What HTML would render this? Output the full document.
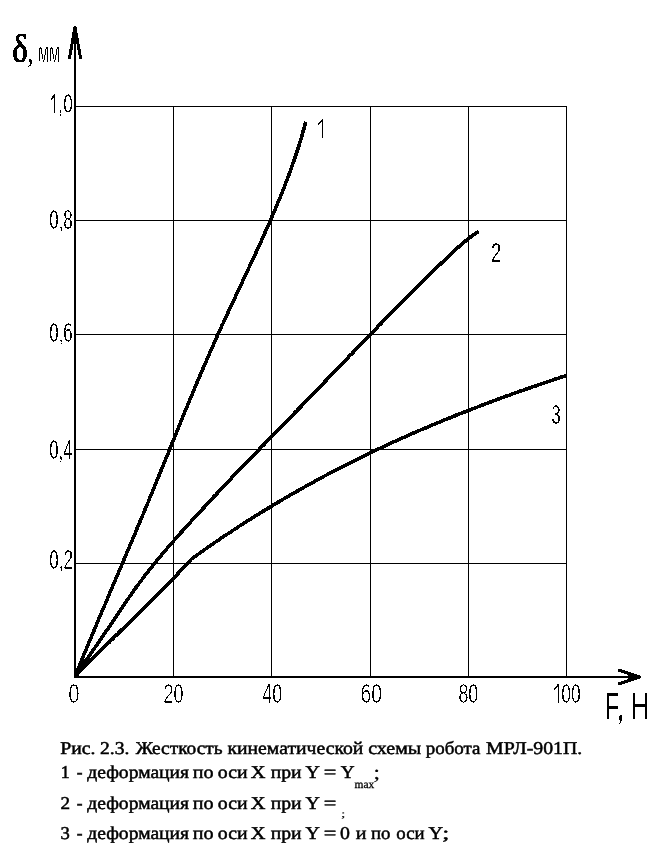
<!DOCTYPE html>
<html><head><meta charset="utf-8"><style>
html,body{margin:0;padding:0;background:#fff;width:669px;height:844px;overflow:hidden}
svg{display:block}
</style></head><body>
<svg width="669" height="844" viewBox="0 0 669 844"><defs><filter id="bin" filterUnits="userSpaceOnUse" x="0" y="0" width="669" height="844" color-interpolation-filters="sRGB"><feComponentTransfer><feFuncR type="discrete" tableValues="0 1"/><feFuncG type="discrete" tableValues="0 1"/><feFuncB type="discrete" tableValues="0 1"/><feFuncA type="discrete" tableValues="0 1"/></feComponentTransfer></filter><filter id="gray" filterUnits="userSpaceOnUse" x="0" y="700" width="669" height="144" color-interpolation-filters="sRGB"><feOffset dx="0" dy="0"/></filter></defs><g filter="url(#bin)"><g stroke="#000" stroke-width="1" shape-rendering="crispEdges"><line x1="74" y1="106.5" x2="567" y2="106.5"/><line x1="74" y1="220.5" x2="567" y2="220.5"/><line x1="74" y1="334.5" x2="567" y2="334.5"/><line x1="74" y1="449.5" x2="567" y2="449.5"/><line x1="74" y1="563.5" x2="567" y2="563.5"/><line x1="173.5" y1="106" x2="173.5" y2="677"/><line x1="271.5" y1="106" x2="271.5" y2="677"/><line x1="370.5" y1="106" x2="370.5" y2="677"/><line x1="468.5" y1="106" x2="468.5" y2="677"/><line x1="566.5" y1="106" x2="566.5" y2="677"/></g><g stroke="#000" stroke-width="2" shape-rendering="crispEdges"><line x1="75" y1="30" x2="75" y2="678"/><line x1="74" y1="677" x2="638" y2="677"/></g><g stroke="#000" stroke-width="3" fill="none" stroke-linecap="round" stroke-linejoin="round"><polyline points="69.5,58 75,27 80.5,58"/><polyline points="619.5,670.5 640,677 619.5,683.5"/></g><path d="M75,27 L72,43 L78,43 Z M640,677 L628,674 L628,680 Z" fill="#000"/><clipPath id="cc"><rect x="74" y="0" width="600" height="678"/></clipPath><g stroke="#000" stroke-width="3.6" fill="none" stroke-linecap="butt" stroke-linejoin="round" clip-path="url(#cc)"><polyline points="75.0,676.5 75.8,674.5 76.6,672.5 77.5,670.5 78.3,668.5 79.1,666.5 79.9,664.4 80.7,662.4 81.6,660.4 82.4,658.4 83.2,656.4 84.0,654.4 84.9,652.4 85.7,650.4 86.5,648.4 87.4,646.4 88.2,644.3 89.0,642.3 89.9,640.3 90.7,638.3 91.6,636.3 92.4,634.3 93.2,632.3 94.1,630.3 94.9,628.3 95.8,626.3 96.6,624.2 97.4,622.2 98.3,620.2 99.1,618.2 100.0,616.2 100.8,614.2 101.7,612.2 102.5,610.2 103.4,608.2 104.2,606.2 105.1,604.1 105.9,602.1 106.8,600.1 107.6,598.1 108.5,596.1 109.3,594.1 110.2,592.1 111.0,590.1 111.9,588.1 112.7,586.1 113.6,584.1 114.4,582.0 115.3,580.0 116.1,578.0 117.0,576.0 117.9,574.0 118.7,572.0 119.6,570.0 120.4,568.0 121.3,566.0 122.1,564.0 123.0,561.9 123.8,559.9 124.7,557.9 125.5,555.9 126.4,553.9 127.2,551.9 128.1,549.9 128.9,547.9 129.8,545.9 130.6,543.9 131.5,541.8 132.3,539.8 133.2,537.8 134.0,535.8 134.9,533.8 135.7,531.8 136.5,529.8 137.4,527.8 138.2,525.8 139.1,523.8 139.9,521.7 140.8,519.7 141.6,517.7 142.4,515.7 143.3,513.7 144.1,511.7 144.9,509.7 145.8,507.7 146.6,505.7 147.4,503.7 148.3,501.6 149.1,499.6 149.9,497.6 150.8,495.6 151.6,493.6 152.4,491.6 153.2,489.6 154.1,487.6 154.9,485.6 155.7,483.6 156.5,481.6 157.3,479.5 158.2,477.5 159.0,475.5 159.8,473.5 160.6,471.5 161.4,469.5 162.2,467.5 163.1,465.5 163.9,463.5 164.7,461.5 165.5,459.4 166.3,457.4 167.1,455.4 168.0,453.4 168.8,451.4 169.6,449.4 170.4,447.4 171.2,445.4 172.0,443.4 172.8,441.4 173.7,439.3 174.5,437.3 175.3,435.3 176.1,433.3 176.9,431.3 177.7,429.3 178.6,427.3 179.4,425.3 180.2,423.3 181.0,421.3 181.8,419.2 182.7,417.2 183.5,415.2 184.3,413.2 185.1,411.2 186.0,409.2 186.8,407.2 187.6,405.2 188.5,403.2 189.3,401.2 190.1,399.2 191.0,397.1 191.8,395.1 192.6,393.1 193.5,391.1 194.3,389.1 195.1,387.1 196.0,385.1 196.8,383.1 197.7,381.1 198.5,379.1 199.4,377.0 200.2,375.0 201.1,373.0 201.9,371.0 202.8,369.0 203.7,367.0 204.5,365.0 205.4,363.0 206.3,361.0 207.1,359.0 208.0,356.9 208.9,354.9 209.8,352.9 210.6,350.9 211.5,348.9 212.4,346.9 213.3,344.9 214.2,342.9 215.1,340.9 216.0,338.9 216.9,336.8 217.8,334.8 218.7,332.8 219.6,330.8 220.5,328.8 221.4,326.8 222.3,324.8 223.3,322.8 224.2,320.8 225.1,318.8 226.0,316.7 227.0,314.7 227.9,312.7 228.8,310.7 229.7,308.7 230.7,306.7 231.6,304.7 232.6,302.7 233.5,300.7 234.4,298.7 235.4,296.7 236.3,294.6 237.2,292.6 238.2,290.6 239.1,288.6 240.1,286.6 241.0,284.6 242.0,282.6 242.9,280.6 243.8,278.6 244.8,276.6 245.7,274.5 246.7,272.5 247.6,270.5 248.5,268.5 249.5,266.5 250.4,264.5 251.3,262.5 252.3,260.5 253.2,258.5 254.1,256.5 255.1,254.4 256.0,252.4 256.9,250.4 257.8,248.4 258.7,246.4 259.7,244.4 260.6,242.4 261.5,240.4 262.4,238.4 263.3,236.4 264.2,234.3 265.1,232.3 266.0,230.3 266.9,228.3 267.8,226.3 268.7,224.3 269.5,222.3 270.4,220.3 271.3,218.3 272.1,216.3 273.0,214.2 273.9,212.2 274.7,210.2 275.6,208.2 276.4,206.2 277.3,204.2 278.1,202.2 278.9,200.2 279.7,198.2 280.6,196.2 281.4,194.2 282.2,192.1 283.0,190.1 283.8,188.1 284.6,186.1 285.3,184.1 286.1,182.1 286.9,180.1 287.6,178.1 288.4,176.1 289.1,174.1 289.9,172.0 290.6,170.0 291.3,168.0 292.1,166.0 292.8,164.0 293.5,162.0 294.2,160.0 294.9,158.0 295.5,156.0 296.2,154.0 296.9,151.9 297.5,149.9 298.2,147.9 298.8,145.9 299.4,143.9 300.1,141.9 300.7,139.9 301.3,137.9 301.9,135.9 302.4,133.9 303.0,131.8 303.6,129.8 304.1,127.8 304.7,125.8 305.2,123.8 305.7,121.8"/><polyline points="75.0,676.5 77.0,673.5 79.0,670.5 81.1,667.6 83.1,664.7 85.1,661.7 87.1,658.8 89.1,655.9 91.1,653.0 93.2,650.1 95.2,647.2 97.2,644.3 99.2,641.3 101.2,638.4 103.3,635.5 105.3,632.6 107.3,629.6 109.3,626.7 111.3,623.7 113.3,620.7 115.4,617.7 117.4,614.7 119.4,611.7 121.4,608.7 123.4,605.7 125.5,602.7 127.5,599.7 129.5,596.8 131.5,593.9 133.5,591.0 135.5,588.2 137.6,585.4 139.6,582.7 141.6,580.0 143.6,577.3 145.6,574.7 147.6,572.1 149.7,569.5 151.7,567.0 153.7,564.4 155.7,562.0 157.7,559.5 159.8,557.1 161.8,554.7 163.8,552.3 165.8,549.9 167.8,547.6 169.8,545.2 171.9,542.9 173.9,540.6 175.9,538.3 177.9,536.1 179.9,533.8 182.0,531.5 184.0,529.3 186.0,527.1 188.0,524.8 190.0,522.6 192.0,520.4 194.1,518.2 196.1,516.0 198.1,513.8 200.1,511.6 202.1,509.4 204.2,507.2 206.2,505.0 208.2,502.8 210.2,500.7 212.2,498.5 214.2,496.3 216.3,494.2 218.3,492.0 220.3,489.9 222.3,487.7 224.3,485.6 226.4,483.5 228.4,481.3 230.4,479.2 232.4,477.1 234.4,475.0 236.4,472.9 238.5,470.8 240.5,468.7 242.5,466.6 244.5,464.5 246.5,462.4 248.5,460.3 250.6,458.2 252.6,456.1 254.6,454.1 256.6,452.0 258.6,449.9 260.7,447.8 262.7,445.8 264.7,443.7 266.7,441.6 268.7,439.6 270.7,437.5 272.8,435.4 274.8,433.4 276.8,431.3 278.8,429.2 280.8,427.2 282.9,425.1 284.9,423.0 286.9,420.9 288.9,418.9 290.9,416.8 292.9,414.7 295.0,412.6 297.0,410.6 299.0,408.5 301.0,406.4 303.0,404.3 305.1,402.2 307.1,400.1 309.1,398.0 311.1,395.9 313.1,393.8 315.1,391.7 317.2,389.7 319.2,387.6 321.2,385.5 323.2,383.4 325.2,381.3 327.2,379.2 329.3,377.1 331.3,375.0 333.3,372.9 335.3,370.8 337.3,368.7 339.4,366.6 341.4,364.5 343.4,362.4 345.4,360.3 347.4,358.2 349.4,356.1 351.5,354.0 353.5,351.9 355.5,349.8 357.5,347.7 359.5,345.6 361.6,343.5 363.6,341.4 365.6,339.3 367.6,337.2 369.6,335.2 371.6,333.1 373.7,331.0 375.7,328.9 377.7,326.8 379.7,324.8 381.7,322.7 383.8,320.6 385.8,318.6 387.8,316.5 389.8,314.4 391.8,312.4 393.8,310.3 395.9,308.3 397.9,306.2 399.9,304.2 401.9,302.1 403.9,300.1 406.0,298.0 408.0,296.0 410.0,294.0 412.0,292.0 414.0,289.9 416.0,287.9 418.1,285.9 420.1,283.9 422.1,281.9 424.1,279.9 426.1,277.9 428.2,275.9 430.2,273.9 432.2,272.0 434.2,270.0 436.2,268.0 438.2,266.1 440.3,264.1 442.3,262.2 444.3,260.3 446.3,258.4 448.3,256.5 450.3,254.6 452.4,252.7 454.4,250.9 456.4,249.0 458.4,247.2 460.4,245.4 462.5,243.6 464.5,241.9 466.5,240.2 468.5,238.6 470.5,237.0 472.5,235.5 474.6,234.1 476.6,232.7 478.6,231.5"/><polyline points="75.0,676.5 77.0,674.4 79.1,672.3 81.1,670.2 83.2,668.1 85.2,666.0 87.3,663.9 89.3,661.9 91.4,659.8 93.4,657.8 95.5,655.7 97.5,653.7 99.5,651.7 101.6,649.6 103.6,647.6 105.7,645.6 107.7,643.6 109.8,641.6 111.8,639.6 113.9,637.6 115.9,635.6 118.0,633.6 120.0,631.6 122.0,629.6 124.1,627.6 126.1,625.6 128.2,623.6 130.2,621.6 132.3,619.6 134.3,617.6 136.4,615.6 138.4,613.6 140.5,611.6 142.5,609.6 144.6,607.6 146.6,605.5 148.6,603.5 150.7,601.5 152.7,599.4 154.8,597.4 156.8,595.3 158.9,593.3 160.9,591.2 163.0,589.1 165.0,587.0 167.1,585.0 169.1,582.8 171.1,580.7 173.2,578.6 175.2,576.5 177.3,574.3 179.3,572.1 181.4,570.0 183.4,567.8 185.5,565.6 187.5,563.4 189.6,561.1 191.6,558.9 193.6,557.5 195.6,556.0 197.6,554.6 199.7,553.1 201.7,551.7 203.7,550.3 205.7,548.9 207.7,547.5 209.7,546.1 211.7,544.7 213.8,543.3 215.8,541.9 217.8,540.5 219.8,539.2 221.8,537.8 223.8,536.4 225.8,535.1 227.9,533.8 229.9,532.4 231.9,531.1 233.9,529.8 235.9,528.4 237.9,527.1 239.9,525.8 242.0,524.5 244.0,523.2 246.0,521.9 248.0,520.6 250.0,519.4 252.0,518.1 254.0,516.8 256.1,515.6 258.1,514.3 260.1,513.1 262.1,511.8 264.1,510.6 266.1,509.4 268.2,508.1 270.2,506.9 272.2,505.7 274.2,504.5 276.2,503.3 278.2,502.1 280.2,500.9 282.3,499.7 284.3,498.5 286.3,497.4 288.3,496.2 290.3,495.0 292.3,493.9 294.3,492.7 296.4,491.6 298.4,490.4 300.4,489.3 302.4,488.1 304.4,487.0 306.4,485.9 308.4,484.8 310.5,483.7 312.5,482.6 314.5,481.5 316.5,480.4 318.5,479.3 320.5,478.2 322.5,477.1 324.6,476.0 326.6,475.0 328.6,473.9 330.6,472.8 332.6,471.8 334.6,470.7 336.6,469.7 338.7,468.6 340.7,467.6 342.7,466.6 344.7,465.5 346.7,464.5 348.7,463.5 350.7,462.5 352.8,461.5 354.8,460.5 356.8,459.5 358.8,458.5 360.8,457.5 362.8,456.5 364.8,455.5 366.9,454.5 368.9,453.6 370.9,452.6 372.9,451.6 374.9,450.7 376.9,449.7 378.9,448.7 381.0,447.8 383.0,446.9 385.0,445.9 387.0,445.0 389.0,444.1 391.0,443.1 393.1,442.2 395.1,441.3 397.1,440.4 399.1,439.5 401.1,438.6 403.1,437.7 405.1,436.8 407.2,435.9 409.2,435.0 411.2,434.1 413.2,433.2 415.2,432.3 417.2,431.5 419.2,430.6 421.3,429.7 423.3,428.8 425.3,428.0 427.3,427.1 429.3,426.3 431.3,425.4 433.3,424.6 435.4,423.7 437.4,422.9 439.4,422.1 441.4,421.2 443.4,420.4 445.4,419.6 447.4,418.8 449.5,418.0 451.5,417.1 453.5,416.3 455.5,415.5 457.5,414.7 459.5,413.9 461.5,413.1 463.6,412.3 465.6,411.5 467.6,410.7 469.6,410.0 471.6,409.2 473.6,408.4 475.6,407.6 477.7,406.9 479.7,406.1 481.7,405.3 483.7,404.6 485.7,403.8 487.7,403.0 489.7,402.3 491.8,401.5 493.8,400.8 495.8,400.0 497.8,399.3 499.8,398.6 501.8,397.8 503.8,397.1 505.9,396.3 507.9,395.6 509.9,394.9 511.9,394.2 513.9,393.4 515.9,392.7 518.0,392.0 520.0,391.3 522.0,390.6 524.0,389.9 526.0,389.2 528.0,388.5 530.0,387.8 532.1,387.1 534.1,386.4 536.1,385.7 538.1,385.0 540.1,384.3 542.1,383.6 544.1,382.9 546.2,382.2 548.2,381.6 550.2,380.9 552.2,380.2 554.2,379.5 556.2,378.8 558.2,378.2 560.3,377.5 562.3,376.8 564.3,376.2 566.3,375.5"/></g><rect x="53.9" y="94" width="1.1" height="18.799999999999997" fill="#000"/><line x1="54.449999999999996" y1="94.6" x2="51.6" y2="98.9" stroke="#000" stroke-width="1.7" stroke-linecap="round"/><rect x="557.9" y="684" width="1.1" height="18.899999999999977" fill="#000"/><line x1="558.4499999999999" y1="684.6" x2="554.9" y2="689" stroke="#000" stroke-width="1.7" stroke-linecap="round"/><rect x="322" y="119.2" width="1.1" height="18.799999999999997" fill="#000"/><line x1="322.55" y1="119.8" x2="318.7" y2="124" stroke="#000" stroke-width="1.7" stroke-linecap="round"/><g font-family="Liberation Sans, sans-serif" fill="#000" stroke="#fff" stroke-width="0.45"><text x="58.35" y="112.54" font-size="26.8" textLength="14.43" lengthAdjust="spacingAndGlyphs">,0</text><text x="49.24" y="228.64" font-size="26.8" textLength="23.49" lengthAdjust="spacingAndGlyphs">0,8</text><text x="49.24" y="342.34" font-size="26.8" textLength="23.50" lengthAdjust="spacingAndGlyphs">0,6</text><text x="49.25" y="458.64" font-size="26.8" textLength="23.24" lengthAdjust="spacingAndGlyphs">0,4</text><text x="49.24" y="568.74" font-size="26.8" textLength="23.62" lengthAdjust="spacingAndGlyphs">0,2</text><text x="68.21" y="702.54" font-size="26.8" textLength="11.29" lengthAdjust="spacingAndGlyphs">0</text><text x="163.40" y="702.54" font-size="26.8" textLength="20.01" lengthAdjust="spacingAndGlyphs">20</text><text x="262.19" y="702.54" font-size="26.8" textLength="19.91" lengthAdjust="spacingAndGlyphs">40</text><text x="360.51" y="702.54" font-size="26.8" textLength="21.65" lengthAdjust="spacingAndGlyphs">60</text><text x="458.42" y="702.54" font-size="26.8" textLength="19.87" lengthAdjust="spacingAndGlyphs">80</text><text x="561.22" y="702.54" font-size="26.8" textLength="19.47" lengthAdjust="spacingAndGlyphs">00</text><text x="490.88" y="261.64" font-size="26.8" textLength="10.13" lengthAdjust="spacingAndGlyphs">2</text><text x="551.57" y="423.54" font-size="26.8" textLength="9.15" lengthAdjust="spacingAndGlyphs">3</text></g><g font-family="Liberation Sans, sans-serif" fill="#000"><text x="605.02" y="718.9" font-size="37.8" textLength="14.00" lengthAdjust="spacingAndGlyphs">F</text><text x="630.60" y="718.9" font-size="37.8" textLength="18.49" lengthAdjust="spacingAndGlyphs">H</text><text x="37.88" y="61.8" font-size="28" textLength="22.12" lengthAdjust="spacingAndGlyphs" stroke="#fff" stroke-width="0.5">мм</text></g><path d="M619.2,715.6 h2.8 v4.6 l-1.2,2.6 l-1.2,1.8 h-0.6 l0.9,-2.2 l0.2,-2.2 h-0.9 z" fill="#000"/><g font-family="Liberation Serif, serif" fill="#000"><text x="12.36" y="61.6" font-size="39.5" textLength="15.59" lengthAdjust="spacingAndGlyphs" stroke="#000" stroke-width="0.9">δ</text><text x="27.13" y="62.2" font-size="31" textLength="6.38" lengthAdjust="spacingAndGlyphs">,</text></g></g><g filter="url(#gray)"><g font-family="Liberation Serif, serif" fill="#000" stroke="#000" stroke-width="0.5" text-rendering="geometricPrecision"><text x="60.33" y="754" font-size="18.0" textLength="35.17" lengthAdjust="spacingAndGlyphs">Рис.</text><text x="99.94" y="754" font-size="18.0" textLength="29.46" lengthAdjust="spacingAndGlyphs">2.3.</text><text x="135.70" y="754" font-size="18.0" textLength="86.88" lengthAdjust="spacingAndGlyphs">Жесткость</text><text x="227.45" y="754" font-size="18.0" textLength="135.91" lengthAdjust="spacingAndGlyphs">кинематической</text><text x="368.15" y="754" font-size="18.0" textLength="53.11" lengthAdjust="spacingAndGlyphs">схемы</text><text x="425.69" y="754" font-size="18.0" textLength="54.76" lengthAdjust="spacingAndGlyphs">робота</text><text x="486.14" y="754" font-size="18.0" textLength="96.05" lengthAdjust="spacingAndGlyphs">МРЛ-901П.</text><text x="60.63" y="777.8" font-size="18.0" textLength="8.95" lengthAdjust="spacingAndGlyphs">1</text><text x="76.76" y="777.8" font-size="18.0" textLength="5.77" lengthAdjust="spacingAndGlyphs">-</text><text x="87.30" y="777.8" font-size="18.0" textLength="101.75" lengthAdjust="spacingAndGlyphs">деформация</text><text x="192.84" y="777.8" font-size="18.0" textLength="20.83" lengthAdjust="spacingAndGlyphs">по</text><text x="217.83" y="777.8" font-size="18.0" textLength="29.74" lengthAdjust="spacingAndGlyphs">оси</text><text x="250.85" y="777.8" font-size="18.0" textLength="14.72" lengthAdjust="spacingAndGlyphs">X</text><text x="270.75" y="777.8" font-size="18.0" textLength="30.81" lengthAdjust="spacingAndGlyphs">при</text><text x="305.58" y="777.8" font-size="18.0" textLength="14.33" lengthAdjust="spacingAndGlyphs">Y</text><text x="323.69" y="777.8" font-size="18.0" textLength="12.60" lengthAdjust="spacingAndGlyphs">=</text><text x="60.46" y="808.6" font-size="18.0" textLength="9.60" lengthAdjust="spacingAndGlyphs">2</text><text x="76.76" y="808.6" font-size="18.0" textLength="5.77" lengthAdjust="spacingAndGlyphs">-</text><text x="87.30" y="808.6" font-size="18.0" textLength="101.75" lengthAdjust="spacingAndGlyphs">деформация</text><text x="192.84" y="808.6" font-size="18.0" textLength="20.83" lengthAdjust="spacingAndGlyphs">по</text><text x="217.83" y="808.6" font-size="18.0" textLength="29.74" lengthAdjust="spacingAndGlyphs">оси</text><text x="250.85" y="808.6" font-size="18.0" textLength="14.72" lengthAdjust="spacingAndGlyphs">X</text><text x="270.75" y="808.6" font-size="18.0" textLength="30.81" lengthAdjust="spacingAndGlyphs">при</text><text x="305.58" y="808.6" font-size="18.0" textLength="14.33" lengthAdjust="spacingAndGlyphs">Y</text><text x="323.69" y="808.6" font-size="18.0" textLength="12.60" lengthAdjust="spacingAndGlyphs">=</text><text x="60.41" y="839.3" font-size="18.0" textLength="9.32" lengthAdjust="spacingAndGlyphs">3</text><text x="76.76" y="839.3" font-size="18.0" textLength="5.77" lengthAdjust="spacingAndGlyphs">-</text><text x="87.30" y="839.3" font-size="18.0" textLength="101.75" lengthAdjust="spacingAndGlyphs">деформация</text><text x="192.84" y="839.3" font-size="18.0" textLength="20.83" lengthAdjust="spacingAndGlyphs">по</text><text x="217.83" y="839.3" font-size="18.0" textLength="29.74" lengthAdjust="spacingAndGlyphs">оси</text><text x="250.85" y="839.3" font-size="18.0" textLength="14.72" lengthAdjust="spacingAndGlyphs">X</text><text x="270.75" y="839.3" font-size="18.0" textLength="30.81" lengthAdjust="spacingAndGlyphs">при</text><text x="305.58" y="839.3" font-size="18.0" textLength="14.33" lengthAdjust="spacingAndGlyphs">Y</text><text x="323.69" y="839.3" font-size="18.0" textLength="12.60" lengthAdjust="spacingAndGlyphs">=</text><text x="340.79" y="777.8" font-size="18.0" textLength="13.80" lengthAdjust="spacingAndGlyphs">Y</text><text x="354.56" y="787.5" font-size="11.5" textLength="19.78" lengthAdjust="spacingAndGlyphs" stroke-width="0.3">max</text><text x="373.32" y="778.5999999999999" font-size="20" textLength="6.88" lengthAdjust="spacingAndGlyphs" stroke-width="0.2">;</text><text x="340.97" y="817.2" font-size="10" textLength="4.46" lengthAdjust="spacingAndGlyphs" stroke-width="0.1">;</text><text x="340.05" y="839.3" font-size="18.0" textLength="9.91" lengthAdjust="spacingAndGlyphs">0</text><text x="355.74" y="839.3" font-size="18.0" textLength="10.73" lengthAdjust="spacingAndGlyphs">и</text><text x="370.96" y="839.3" font-size="18.0" textLength="19.46" lengthAdjust="spacingAndGlyphs">по</text><text x="396.27" y="839.3" font-size="18.0" textLength="28.28" lengthAdjust="spacingAndGlyphs">оси</text><text x="428.47" y="839.3" font-size="18.0" textLength="14.54" lengthAdjust="spacingAndGlyphs">Y</text><text x="442.28" y="839.3" font-size="18.0" textLength="7.07" lengthAdjust="spacingAndGlyphs">;</text></g></g></svg>
</body></html>
